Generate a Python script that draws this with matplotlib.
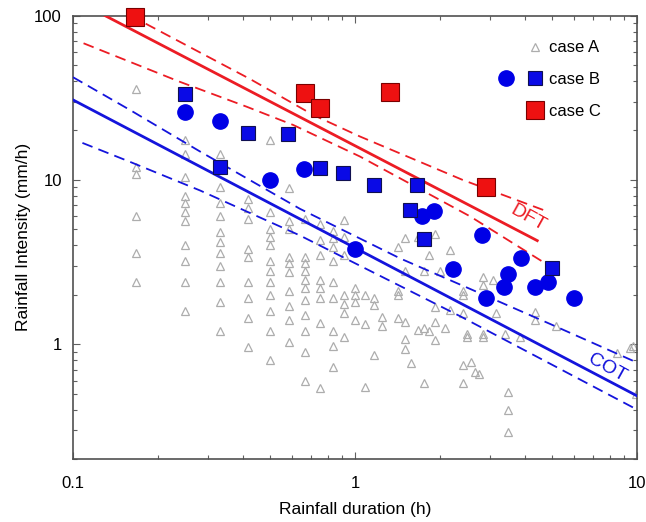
import matplotlib
matplotlib.use("Agg")
import matplotlib.pyplot as plt
from matplotlib.lines import Line2D
from matplotlib.legend_handler import HandlerTuple
from matplotlib.ticker import LogLocator, NullFormatter, FixedLocator, FixedFormatter

plt.rcParams['font.family'] = ['Liberation Sans', 'DejaVu Sans']

# ---------------- data ----------------
# case A: grey triangles, grouped by rainfall duration (h)
a_durations = [0.167, 0.25, 0.333, 0.417, 0.5, 0.583, 0.667, 0.75, 0.833, 0.917,
               1.0, 1.083, 1.167, 1.25, 1.417, 1.5, 1.583, 1.667, 1.75, 1.833,
               1.917, 2.0, 2.083, 2.167, 2.417, 2.5, 2.583, 2.667, 2.75, 2.833,
               3.083, 3.167, 3.417, 3.5, 3.833, 4.333, 5.167, 8.5, 9.417, 9.667, 9.917]
a_intensities = [
    [36, 12, 10.8, 6.0, 3.6, 2.4],
    [17.6, 14.4, 10.4, 8.0, 7.2, 6.4, 5.6, 4.0, 3.2, 2.4, 1.6],
    [14.4, 9.0, 7.2, 6.0, 4.8, 4.2, 3.6, 3.0, 2.4, 1.8, 1.2],
    [7.7, 6.7, 5.8, 3.8, 3.4, 2.4, 1.9, 1.45, 0.96],
    [17.4, 6.4, 5.0, 4.5, 4.0, 3.2, 2.8, 2.4, 2.0, 1.6, 1.2, 0.8],
    [8.9, 5.6, 5.0, 3.4, 3.1, 2.75, 2.1, 1.7, 1.4, 1.03],
    [5.8, 3.4, 3.1, 2.8, 2.45, 2.2, 1.85, 1.5, 1.2, 0.9, 0.6],
    [5.4, 4.3, 3.5, 2.45, 2.2, 1.9, 1.35, 0.54],
    [4.9, 4.4, 3.9, 3.2, 2.4, 1.9, 1.2, 0.97, 0.73],
    [5.7, 4.5, 3.5, 2.0, 1.75, 1.55, 1.1],
    [2.2, 2.0, 1.8, 1.4],
    [2.0, 1.32, 0.55],
    [1.9, 1.73, 0.86],
    [1.47, 1.29],
    [3.9, 2.1, 2.0, 1.44],
    [4.4, 2.8, 1.37, 1.07, 0.93],
    [0.77],
    [4.5, 1.22],
    [2.8, 1.26, 0.58],
    [3.5, 1.2],
    [4.7, 1.69, 1.37, 1.06],
    [2.8],
    [1.25],
    [3.75, 1.62],
    [2.12, 2.0, 1.55, 0.75, 0.58],
    [1.16, 1.1],
    [0.78],
    [0.68],
    [0.66],
    [2.58, 2.3, 1.16, 1.1],
    [2.45],
    [1.55],
    [1.16],
    [0.51, 0.40, 0.29],
    [1.1],
    [1.56, 1.41],
    [1.29],
    [0.88],
    [0.95],
    [0.97],
    [0.5],
]

# case B: blue circles and blue squares
b_circle_dur = [0.25, 0.333, 0.5, 0.66, 1.0, 1.73, 1.90, 2.82, 2.22, 2.91,
                3.87, 3.48, 3.39, 4.36, 4.82, 5.96]
b_circle_int = [26, 23, 10, 11.7, 3.8, 6.0, 6.5, 4.6, 2.86, 1.92,
                3.33, 2.68, 2.24, 2.24, 2.40, 1.92]
b_square_dur = [0.25, 0.333, 0.418, 0.58, 0.75, 0.91, 1.167, 1.66, 1.57, 1.75, 5.0]
b_square_int = [33.5, 12.0, 19.2, 19.0, 11.9, 11.0, 9.3, 9.3, 6.6, 4.35, 2.9]

# case C: red squares
c_dur = [0.166, 0.665, 0.75, 1.33, 2.91]
c_int = [98, 34, 27.3, 34.4, 9.1]

# threshold lines (end points / traced points)
dft_dur = [0.13, 4.43]
dft_int = [100, 4.27]
dft_upper_dur = [0.16, 0.425, 0.71, 1.04, 2.41, 4.84]
dft_upper_int = [100, 41.1, 24.9, 18.4, 10.0, 6.4]
dft_lower_dur = [0.109, 0.239, 0.413, 0.604, 1.04, 2.56, 4.6]
dft_lower_int = [67.9, 39.6, 27.9, 21.6, 13.9, 6.0, 3.2]

cot_dur = [0.1, 10]
cot_int = [30.7, 0.485]
cot_upper_dur = [0.1, 0.159, 0.282, 0.638, 1.445, 2.56, 4.91, 10]
cot_upper_int = [42.2, 26.7, 14.9, 6.67, 3.33, 2.17, 1.33, 0.773]
cot_lower_dur = [0.108, 0.159, 0.282, 0.638, 2.36, 10]
cot_lower_int = [16.8, 12.9, 8.63, 4.59, 1.48, 0.40]

x_ticks = [0.1, 1, 10]
x_tick_labels = ["0.1", "1", "10"]
y_ticks = [1, 10, 100]
y_tick_labels = ["1", "10", "100"]

# ---------------- figure ----------------
RED = '#ec1c24'
BLUE = '#1414dc'
GREY = '#adadad'

fig = plt.figure(figsize=(6.46, 5.22), dpi=100)
ax = fig.add_axes([0.113, 0.1207, 0.873, 0.8493])
ax.set_xscale('log')
ax.set_yscale('log')
ax.set_xlim(0.1, 10)
ax.set_ylim(0.2, 100)

# case A
a_x, a_y = [], []
for d, vals in zip(a_durations, a_intensities):
    for v in vals:
        a_x.append(d)
        a_y.append(v)
ax.plot(a_x, a_y, ls='none', marker='^', ms=6, mfc='none', mec=GREY, mew=0.9, zorder=2)

# lines
dash = (6, 3.5)
ax.plot(dft_dur, dft_int, color=RED, lw=2.0, zorder=3)
ax.plot(dft_upper_dur, dft_upper_int, color=RED, lw=1.3, dashes=dash, zorder=3)
ax.plot(dft_lower_dur, dft_lower_int, color=RED, lw=1.3, dashes=dash, zorder=3)
ax.plot(cot_dur, cot_int, color=BLUE, lw=2.0, zorder=3)
ax.plot(cot_upper_dur, cot_upper_int, color=BLUE, lw=1.3, dashes=dash, zorder=3)
ax.plot(cot_lower_dur, cot_lower_int, color=BLUE, lw=1.3, dashes=dash, zorder=3)

# case B and C
ax.plot(b_circle_dur, b_circle_int, ls='none', marker='o', ms=11, mfc='#0000e6', mec='#0000e6', zorder=4)
ax.plot(b_square_dur, b_square_int, ls='none', marker='s', ms=10, mfc='#0a0ae6', mec='#101050', mew=0.8, zorder=4)
ax.plot(c_dur, c_int, ls='none', marker='s', ms=12.5, mfc='#ee1111', mec='#7a0000', mew=0.8, zorder=5, clip_on=False)

ax.text(4.12, 5.85, 'DFT', color=RED, fontsize=14, rotation=-29, ha='center', va='center')
ax.text(7.82, 0.715, 'COT', color=BLUE, fontsize=14, rotation=-29, ha='center', va='center')

# axes styling
for sp in ax.spines.values():
    sp.set_color('#505050')
    sp.set_linewidth(1.2)
ax.xaxis.set_major_locator(FixedLocator(x_ticks))
ax.xaxis.set_major_formatter(FixedFormatter(x_tick_labels))
ax.yaxis.set_major_locator(FixedLocator(y_ticks))
ax.yaxis.set_major_formatter(FixedFormatter(y_tick_labels))
ax.xaxis.set_minor_locator(LogLocator(base=10, subs=range(2, 10), numticks=20))
ax.yaxis.set_minor_locator(LogLocator(base=10, subs=range(2, 10), numticks=20))
ax.xaxis.set_minor_formatter(NullFormatter())
ax.yaxis.set_minor_formatter(NullFormatter())
ax.tick_params(which='both', direction='in', top=True, right=True, color='#606060', width=0.8)
ax.tick_params(which='major', length=5, labelsize=12)
ax.tick_params(which='minor', length=3)
ax.tick_params(axis='x', which='major', pad=12)
ax.tick_params(axis='y', which='major', pad=8)

ax.set_xlabel('Rainfall duration (h)', fontsize=12.5, labelpad=8)
ax.set_ylabel('Rainfall Intensity (mm/h)', fontsize=12.5, labelpad=2)

# legend
blank = Line2D([], [], ls='none', marker='none')
h_a = Line2D([], [], ls='none', marker='^', ms=6, mfc='none', mec=GREY, mew=0.9)
h_bc = Line2D([], [], ls='none', marker='o', ms=11, mfc='#0000e6', mec='#0000e6')
h_bs = Line2D([], [], ls='none', marker='s', ms=10, mfc='#0a0ae6', mec='#101050', mew=0.8)
h_c = Line2D([], [], ls='none', marker='s', ms=12.5, mfc='#ee1111', mec='#7a0000', mew=0.8)
leg = ax.legend([(blank, h_a), (h_bc, h_bs), (blank, h_c)], ['case A', 'case B', 'case C'],
                handler_map={tuple: HandlerTuple(ndivide=None, pad=0)},
                loc='upper left', bbox_to_anchor=(0.743, 0.944), frameon=False,
                borderpad=0, borderaxespad=0, handlelength=3.4, handletextpad=0.0,
                labelspacing=1.0, fontsize=12, numpoints=1)

fig.savefig('out.png', dpi=100)
